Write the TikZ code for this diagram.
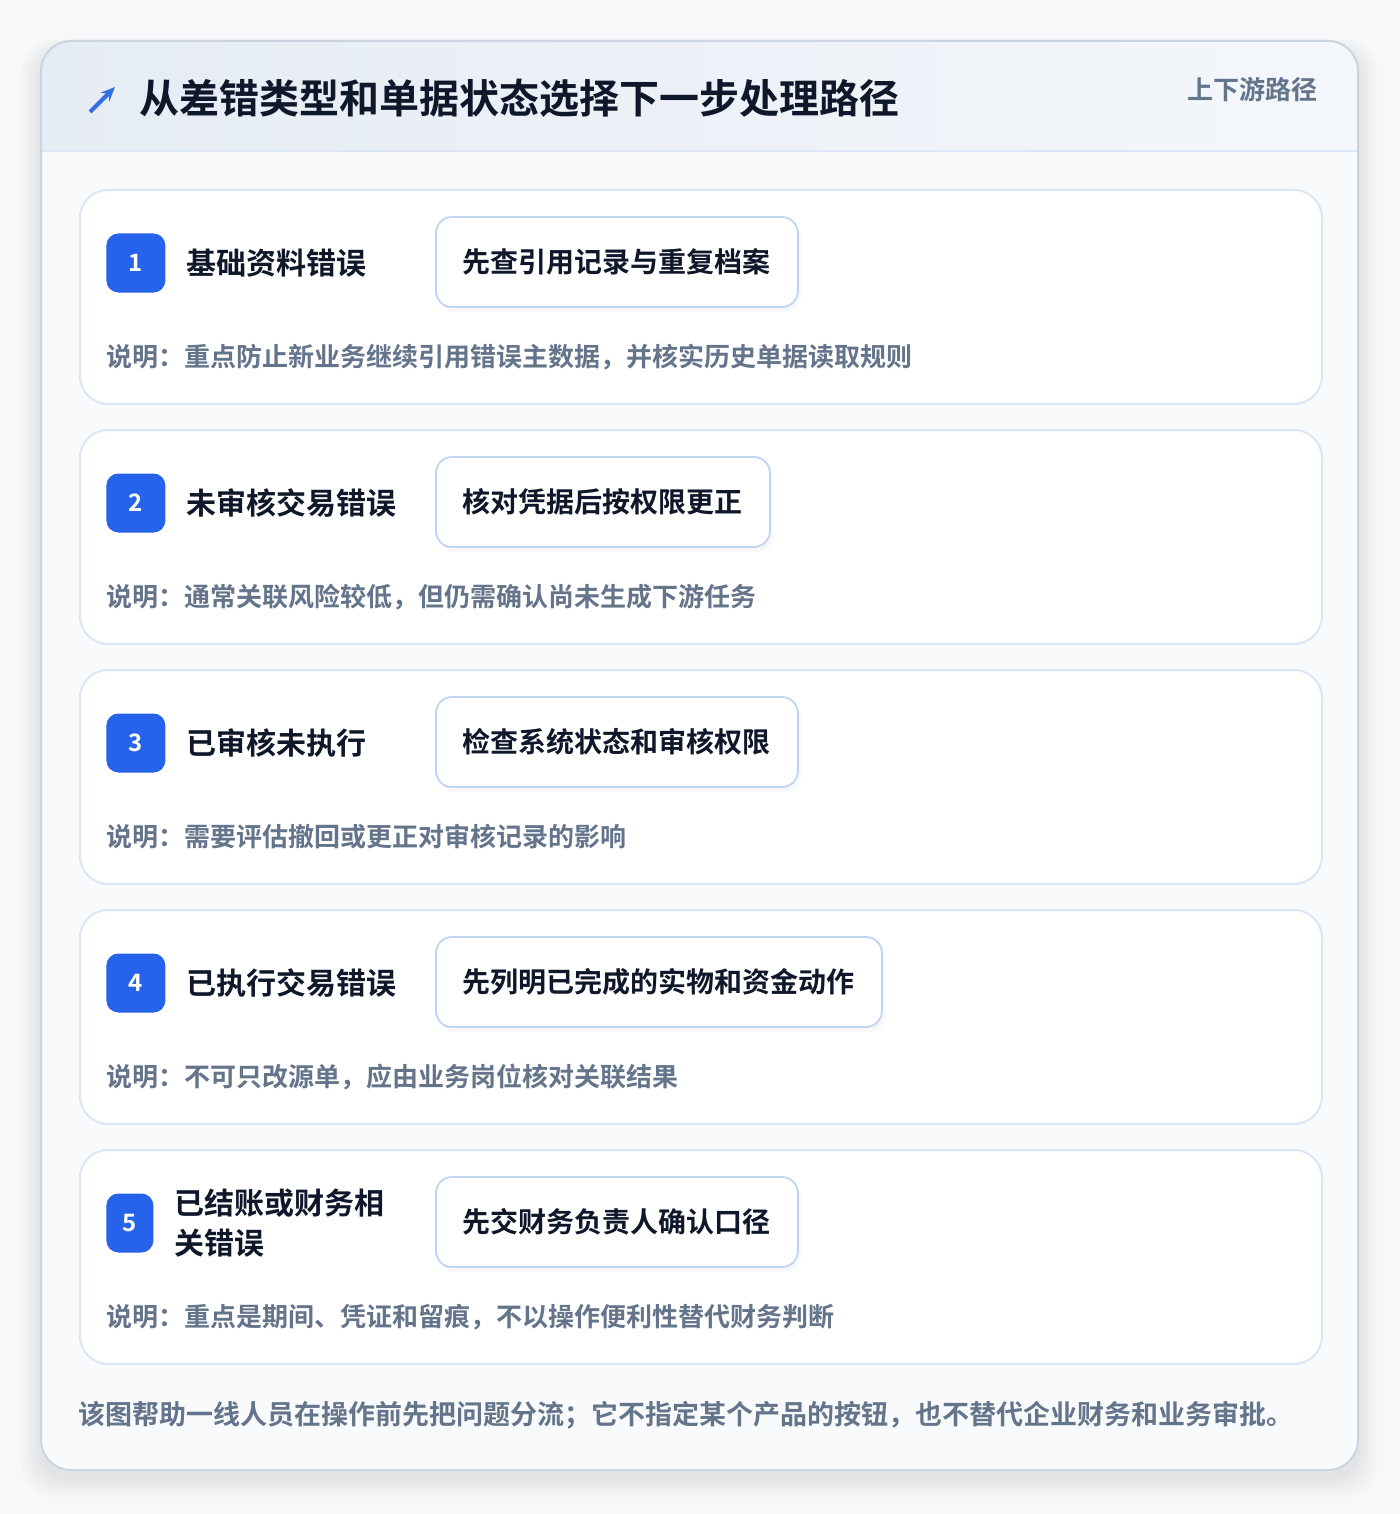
\documentclass[tikz,border=0pt]{standalone}
\usepackage{fontspec}
\setmainfont{Noto Sans CJK SC}[BoldFont={Noto Sans CJK SC Bold}]
\usetikzlibrary{calc,positioning,arrows.meta,shadows}
\definecolor{pagebg}{HTML}{F7F8FA}
\definecolor{outerline}{HTML}{CBD5E1}
\definecolor{bodybg}{HTML}{F8FAFC}
\definecolor{headl}{HTML}{E6ECF4}
\definecolor{headr}{HTML}{F4F7FB}
\definecolor{headline}{HTML}{DBE7F7}
\definecolor{cardline}{HTML}{DBE7F7}
\definecolor{actline}{HTML}{BFD4F2}
\definecolor{badgeblue}{HTML}{2563EB}
\definecolor{inkdark}{HTML}{0F172A}
\definecolor{inkgray}{HTML}{64748B}
\definecolor{iconblue}{HTML}{2F6FE0}

\tikzset{
  card/.style={draw=cardline, line width=1pt, fill=white, rounded corners=14pt,
    minimum width=621pt, minimum height=107pt, anchor=north west, inner sep=0pt},
  badge/.style={fill=badgeblue, rounded corners=6pt, minimum height=29.5pt, inner sep=0pt,
    text=white, font=\bfseries\fontsize{12}{12}\selectfont},
  lab/.style={inner sep=0pt, align=left, text=inkdark, font=\bfseries\fontsize{15}{20}\selectfont},
  actbox/.style={draw=actline, line width=0.9pt, fill=white, rounded corners=8pt,
    minimum height=45pt, inner xsep=13.5pt, anchor=west, text=inkdark,
    font=\bfseries\fontsize{14}{14}\selectfont,
    drop shadow={opacity=0.05, shadow xshift=1.5pt, shadow yshift=-2.5pt}},
  note/.style={inner sep=0pt, anchor=west, text=inkgray, font=\bfseries\fontsize{13}{13}\selectfont}
}

\begin{document}
\begin{tikzpicture}[x=0.5pt,y=-0.5pt]
\useasboundingbox (0,0) rectangle (1400,1514);
\fill[pagebg] (0,0) rectangle (1400,1514);
% soft shadow of the outer card
\foreach \s in {1,...,10}
  \fill[black, opacity=0.008, rounded corners=16pt] (41-2*\s,41-\s+8) rectangle (1358+2*\s,1470+2*\s+8);
\coordinate (oa) at (41,41);
\coordinate (ob) at (1358,1470);
\fill[bodybg, rounded corners=15pt] (oa) rectangle (ob);
\begin{scope}
\clip[rounded corners=15pt] (oa) rectangle (ob);
\shade[left color=headl, right color=headr] (41,41) rectangle (1358,151);
\draw[headline, line width=1pt] (41,151) -- (1358,151);
\end{scope}
\draw[outerline, line width=1pt, rounded corners=15pt] (oa) rectangle (ob);

% header
\coordinate (ia) at (90,112);
\coordinate (ib) at (115,87);
\draw[iconblue, line width=2pt, -{Stealth[length=7pt,width=6pt]}] (ia) -- (ib);
\node[anchor=west, inner sep=0pt, text=inkdark, font=\bfseries\fontsize{20}{20}\selectfont] (title) at (139,98) {从差错类型和单据状态选择下一步处理路径};
\node[anchor=east, inner sep=0pt, text=inkgray, font=\bfseries\fontsize{13}{13}\selectfont] (side) at (1318,90) {上下游路径};

% rows
\foreach \n/\bw/\lab/\act/\desc in {
  1/29.5/基础资料错误/先查引用记录与重复档案/说明：重点防止新业务继续引用错误主数据，并核实历史单据读取规则,
  2/29.5/未审核交易错误/核对凭据后按权限更正/说明：通常关联风险较低，但仍需确认尚未生成下游任务,
  3/29.5/已审核未执行/检查系统状态和审核权限/说明：需要评估撤回或更正对审核记录的影响,
  4/29.5/已执行交易错误/先列明已完成的实物和资金动作/说明：不可只改源单，应由业务岗位核对关联结果,
  5/23.5/已结账或财务相\\关错误/先交财务负责人确认口径/说明：重点是期间、凭证和留痕，不以操作便利性替代财务判断}
{
\pgfmathsetmacro\ytop{189+(\n-1)*240}
\node[card] (card\n) at (79,\ytop) {};
\node[badge, minimum width=\bw pt, anchor=west] (b\n) at ($(card\n.north west)+(27,74)$) {\n};
\node[lab, anchor=west, right=10pt of b\n] (l\n) {\lab};
\node[actbox] (a\n) at ($(card\n.north west)+(356,73)$) {\act};
\node[note] (d\n) at ($(card\n.north west)+(27,168)$) {\desc};
}

% footer
\node[anchor=west, inner sep=0pt, text=inkgray, font=\bfseries\fontsize{13.5}{13.5}\selectfont] (foot) at (78,1415) {该图帮助一线人员在操作前先把问题分流；它不指定某个产品的按钮，也不替代企业财务和业务审批。};
\end{tikzpicture}
\end{document}
